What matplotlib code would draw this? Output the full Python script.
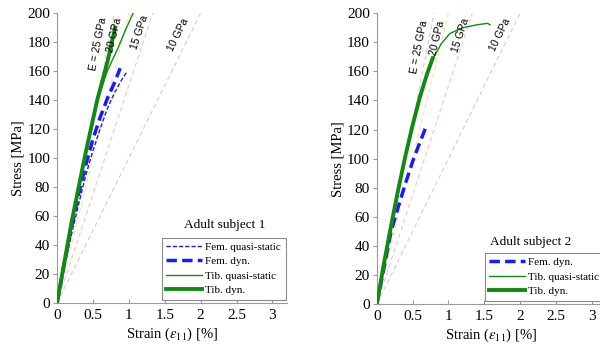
import numpy as np
import matplotlib
matplotlib.use("Agg")
import matplotlib.pyplot as plt

plt.rcParams["font.family"] = ["Liberation Serif", "DejaVu Serif"]
plt.rcParams["mathtext.fontset"] = "stix"

# ---------------- data ----------------
# subject 1
s1_fem_qs_x = [0, 0.1, 0.2, 0.3, 0.4, 0.5, 0.6, 0.7, 0.8, 0.9, 0.98]
s1_fem_qs_y = [0, 24, 47, 68, 88, 105, 120, 134, 145, 154, 160]
s1_fem_dyn_x = [0, 0.1, 0.2, 0.3, 0.4, 0.5, 0.6, 0.7, 0.8, 0.88]
s1_fem_dyn_y = [0, 27, 52, 75, 95, 113, 128, 141, 152, 162]
s1_tib_qs_x = [0, 0.2, 0.4, 0.55, 0.7, 0.85, 0.95, 1.06]
s1_tib_qs_y = [0, 55, 103, 138, 160, 176, 188, 200]
s1_tib_dyn_x = [0, 0.2, 0.4, 0.56, 0.7, 0.81]
s1_tib_dyn_y = [0, 55, 104, 140, 166, 190]

# subject 2 (no femur quasi-static)
s2_fem_dyn_x = [0, 0.1, 0.2, 0.3, 0.4, 0.5, 0.6, 0.68]
s2_fem_dyn_y = [0, 25, 50, 67, 83, 98, 111, 121]
s2_tib_qs_x = [0, 0.1, 0.2, 0.3, 0.4, 0.5, 0.6, 0.7, 0.8, 0.9, 1.02, 1.2, 1.4, 1.55, 1.58]
s2_tib_qs_y = [0, 28, 54, 79, 102, 123, 142, 158, 170, 179, 186, 190, 192, 193, 192]
s2_tib_dyn_x = [0, 0.1, 0.2, 0.3, 0.4, 0.5, 0.6, 0.7, 0.78]
s2_tib_dyn_y = [0, 28, 54, 79, 102, 123, 142, 158, 169]

# reference moduli [GPa], their colours and label spots (strain, stress)
moduli = [25, 20, 15, 10]
mod_colors = ["#cfcfcf", "#f2e3a6", "#f0c4c4", "#cfcfcf"]
mod_labels = ["E = 25 GPa", "20 GPa", "15 GPa", "10 GPa"]
s1_label_pos = [(0.58, 179), (0.80, 185), (1.15, 187), (1.69, 185)]
s2_label_pos = [(0.59, 177), (0.84, 183), (1.17, 185), (1.72, 185)]

BLUE = "#1a1aff"
GREEN = "#128a12"

fig = plt.figure(figsize=(6.0, 3.46), dpi=100)
ax1 = fig.add_axes([0.095, 0.124, 0.383, 0.838])
ax2 = fig.add_axes([0.628, 0.121, 0.382, 0.841])


def setup(ax, label_pos):
    ax.set_xlim(0, 3.2)
    ax.set_ylim(0, 200)
    ax.set_xticks([0, 0.5, 1, 1.5, 2, 2.5, 3])
    ax.set_xticklabels(["0", "0.5", "1", "1.5", "2", "2.5", "3"])
    ax.set_yticks(range(0, 201, 20))
    for sp in ("top", "right"):
        ax.spines[sp].set_visible(False)
    for sp in ("left", "bottom"):
        ax.spines[sp].set_color("#9a9a9a")
        ax.spines[sp].set_linewidth(0.8)
    ax.tick_params(axis="both", labelsize=11, length=3, color="#9a9a9a", pad=2)
    ax.tick_params(axis="x", direction="in", pad=4)
    ax.set_xlabel(r"Strain ($\varepsilon_{11}$) [%]", fontsize=10.5, labelpad=3)
    ax.set_ylabel("Stress [MPa]", fontsize=10.5, labelpad=2)
    # iso-modulus reference lines
    for E, c, lab, (lx, ly) in zip(moduli, mod_colors, mod_labels, label_pos):
        xe = 200.0 / (E * 10.0)
        ax.plot([0, xe], [0, 200], ls=(0, (4, 3)), color=c, lw=0.8, zorder=1)
        p0 = ax.transData.transform((0, 0))
        p1 = ax.transData.transform((xe, 200))
        ang = np.degrees(np.arctan2(p1[1] - p0[1], p1[0] - p0[0]))
        ax.text(lx, ly, lab, rotation=ang, rotation_mode="anchor",
                ha="center", va="center", fontsize=7.5,
                family=["Liberation Sans", "DejaVu Sans"], zorder=4)


setup(ax1, s1_label_pos)
setup(ax2, s2_label_pos)

leg_kw = dict(loc="lower left", fontsize=8, frameon=True, fancybox=False,
              edgecolor="#8a8a8a", framealpha=1, handlelength=3.2,
              handletextpad=0.3, labelspacing=0.42, borderpad=0.4,
              borderaxespad=0)

# subject 1
ax1.plot(s1_fem_qs_x, s1_fem_qs_y, ls=(0, (3, 1.5)), color=BLUE, lw=1.0, label="Fem. quasi-static", zorder=3)
ax1.plot(s1_fem_dyn_x, s1_fem_dyn_y, ls=(0, (3, 1.5)), color=BLUE, lw=2.5, label="Fem. dyn.", zorder=3)
ax1.plot(s1_tib_qs_x, s1_tib_qs_y, color=GREEN, lw=1.0, label="Tib. quasi-static", zorder=3)
ax1.plot(s1_tib_dyn_x, s1_tib_dyn_y, color=GREEN, lw=2.8, label="Tib. dyn.", zorder=3)
leg1 = ax1.legend(bbox_to_anchor=(0.457, 0.012), **leg_kw)
leg1.get_frame().set_linewidth(0.8)
ax1.text(0.73, 0.268, "Adult subject 1", transform=ax1.transAxes, ha="center",
         va="center", fontsize=9.5)

# subject 2
ax2.plot(s2_fem_dyn_x, s2_fem_dyn_y, ls=(0, (3, 1.5)), color=BLUE, lw=2.5, label="Fem. dyn.", zorder=3)
ax2.plot(s2_tib_qs_x, s2_tib_qs_y, color=GREEN, lw=1.0, label="Tib. quasi-static", zorder=3)
ax2.plot(s2_tib_dyn_x, s2_tib_dyn_y, color=GREEN, lw=2.8, label="Tib. dyn.", zorder=3)
leg2 = ax2.legend(bbox_to_anchor=(0.47, 0.012), **leg_kw)
leg2.get_frame().set_linewidth(0.8)
ax2.text(0.67, 0.213, "Adult subject 2", transform=ax2.transAxes, ha="center",
         va="center", fontsize=9.5)

fig.savefig("out.png", dpi=100)
